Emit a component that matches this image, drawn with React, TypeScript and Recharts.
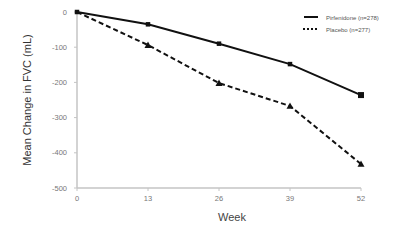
import React from "react";
import { LineChart, Line, XAxis, YAxis } from "recharts";

const weeks = [0, 13, 26, 39, 52];
const pirfenidone = [0, -35, -90, -148, -236];
const placebo = [0, -94, -202, -267, -432];
const yTicks = [0, -100, -200, -300, -400, -500];

const data = weeks.map((week, i) => ({
  week,
  pirfenidone: pirfenidone[i],
  placebo: placebo[i],
}));

const FONT = "'Liberation Sans', Arial, sans-serif";
const AXIS = "#c4c4c4";

const XTick = (props: any) => {
  const { x, y, payload } = props;
  return (
    <text x={x} y={y + 8} textAnchor="middle" fontSize={7.5} fill="#777" fontFamily={FONT}>
      {payload.value}
    </text>
  );
};

const YTick = (props: any) => {
  const { x, y, payload } = props;
  return (
    <text x={x - 5} y={y + 2.5} textAnchor="end" fontSize={7.5} fill="#777" fontFamily={FONT}>
      {payload.value}
    </text>
  );
};

const SquareDot = (props: any) => {
  const { cx, cy, index } = props;
  const s = index === weeks.length - 1 ? 6 : 4.5;
  return <rect key={`sq-${index}`} x={cx - s / 2} y={cy - s / 2} width={s} height={s} fill="#111" />;
};

const TriangleDot = (props: any) => {
  const { cx, cy, index } = props;
  if (index === 0) {
    return <rect key={`tr-${index}`} x={cx - 2} y={cy - 2} width={4} height={4} fill="#111" />;
  }
  const r = 3.5;
  return (
    <path
      key={`tr-${index}`}
      d={`M${cx},${cy - r} L${cx + r},${cy + r * 0.8} L${cx - r},${cy + r * 0.8} Z`}
      fill="#111"
    />
  );
};

const App: React.FC = () => {
  return (
    <div style={{ position: "fixed", left: 0, top: 0, width: 400, height: 240, background: "#fff" }}>
      <LineChart
        width={400}
        height={240}
        data={data}
        margin={{ top: 12, right: 39, bottom: 0, left: 0 }}
      >
        <XAxis
          dataKey="week"
          type="number"
          domain={[0, 52]}
          ticks={weeks}
          height={52}
          axisLine={{ stroke: AXIS, strokeWidth: 1.5 }}
          tickLine={{ stroke: AXIS }}
          tickSize={3}
          tick={<XTick />}
        />
        <YAxis
          type="number"
          domain={[-500, 0]}
          ticks={yTicks}
          width={77}
          axisLine={{ stroke: AXIS, strokeWidth: 1.5 }}
          tickLine={{ stroke: AXIS }}
          tickSize={3}
          tick={<YTick />}
        />
        <Line
          dataKey="pirfenidone"
          stroke="#111"
          strokeWidth={2}
          dot={<SquareDot />}
          isAnimationActive={false}
        />
        <Line
          dataKey="placebo"
          stroke="#111"
          strokeWidth={2}
          strokeDasharray="5 3"
          dot={<TriangleDot />}
          isAnimationActive={false}
        />
        <text
          x={27}
          y={100}
          transform="rotate(-90 27 100)"
          textAnchor="middle"
          dominantBaseline="central"
          fontSize={11}
          fill="#333"
          fontFamily={FONT}
        >
          Mean Change in FVC (mL)
        </text>
        <text x={232} y={221} textAnchor="middle" fontSize={11} fill="#444" fontFamily={FONT}>
          Week
        </text>
        <g>
          <line x1={304} y1={17} x2={318} y2={17} stroke="#111" strokeWidth={2} />
          <text x={326} y={19.5} fontSize={6} fill="#555" fontFamily={FONT}>
            Pirfenidone (n=278)
          </text>
          <line x1={303} y1={29} x2={318} y2={29} stroke="#111" strokeWidth={2} strokeDasharray="2 2" />
          <text x={326} y={31.5} fontSize={6} fill="#555" fontFamily={FONT}>
            Placebo (n=277)
          </text>
        </g>
      </LineChart>
    </div>
  );
};

export default App;
